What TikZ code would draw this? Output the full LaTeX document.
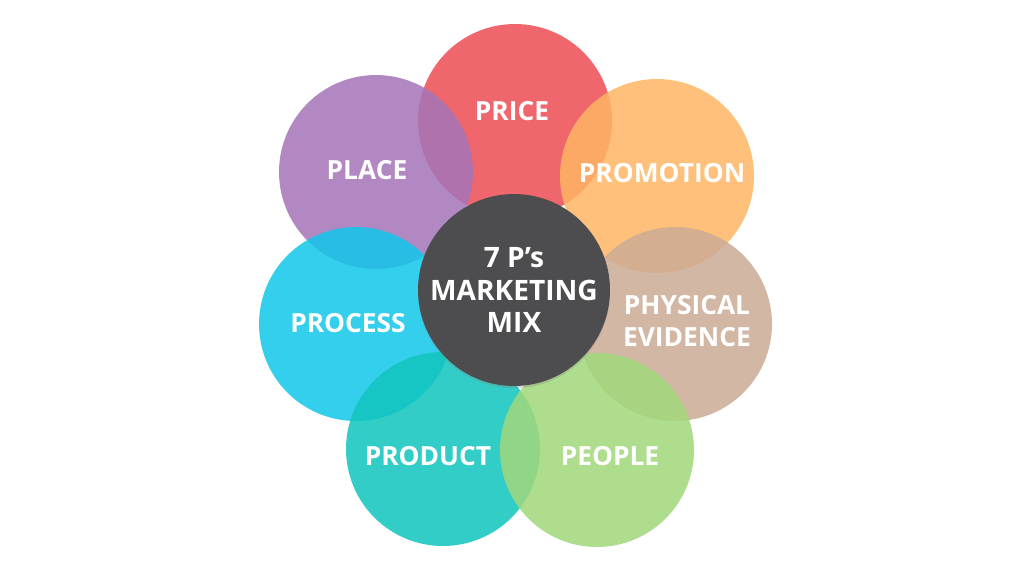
\documentclass[tikz,border=0pt]{standalone}
\usepackage{fontspec}
\setmainfont{Open Sans}
\usetikzlibrary{shadows}
\definecolor{priceclr}{RGB}{237,77,83}
\definecolor{promoclr}{RGB}{254,181,99}
\definecolor{physclr}{RGB}{204,171,150}
\definecolor{placeclr}{RGB}{164,116,184}
\definecolor{processclr}{RGB}{16,199,235}
\definecolor{productclr}{RGB}{16,197,190}
\definecolor{peopleclr}{RGB}{161,216,123}
\definecolor{hubclr}{RGB}{77,77,79}

\begin{document}
\begin{tikzpicture}[x=0.02cm, y=-0.02cm,
    petal/.style={circle, minimum size=3.88cm, inner sep=0pt, fill opacity=0.85},
    caption/.style={text=white, font=\bfseries\fontsize{15}{18}\selectfont, align=center, inner sep=0pt}]
    \useasboundingbox (0,0) rectangle (1024,576);
    \fill[white] (0,0) rectangle (1024,576);
    % petals, back to front
    \node[petal, fill=priceclr] (price) at (515,121) {};
    \node[petal, fill=promoclr] (promo) at (657,176) {};
    \node[petal, fill=physclr] (phys) at (675,324) {};
    \node[petal, fill=placeclr] (place) at (376,172) {};
    \node[petal, fill=processclr] (process) at (356,324) {};
    \node[petal, fill=productclr] (product) at (443,449) {};
    \node[petal, fill=peopleclr] (people) at (597,450) {};
    % centre
    \node[petal, fill=hubclr, fill opacity=1, minimum size=3.84cm,
        drop shadow={shadow xshift=0pt, shadow yshift=-1.2pt, opacity=0.3}] (hub) at (514,290) {};
    % labels
    \node[caption] (pricetxt) at (512,111) {PRICE};
    \node[caption] (placetxt) at (367,170) {PLACE};
    \node[caption] (promotxt) at (662,173) {PROMOTION};
    \node[caption] (physttxt) at (687,321) {PHYSICAL\\EVIDENCE};
    \node[caption] (processtxt) at (348,323) {PROCESS};
    \node[caption] (producttxt) at (428,456) {PRODUCT};
    \node[caption] (peopletxt) at (610,456) {PEOPLE};
    \node[caption, font=\bfseries\fontsize{16}{18.5}\selectfont] (hubtxt) at (514,290) {7 P’s\\MARKETING\\MIX};
\end{tikzpicture}
\end{document}
